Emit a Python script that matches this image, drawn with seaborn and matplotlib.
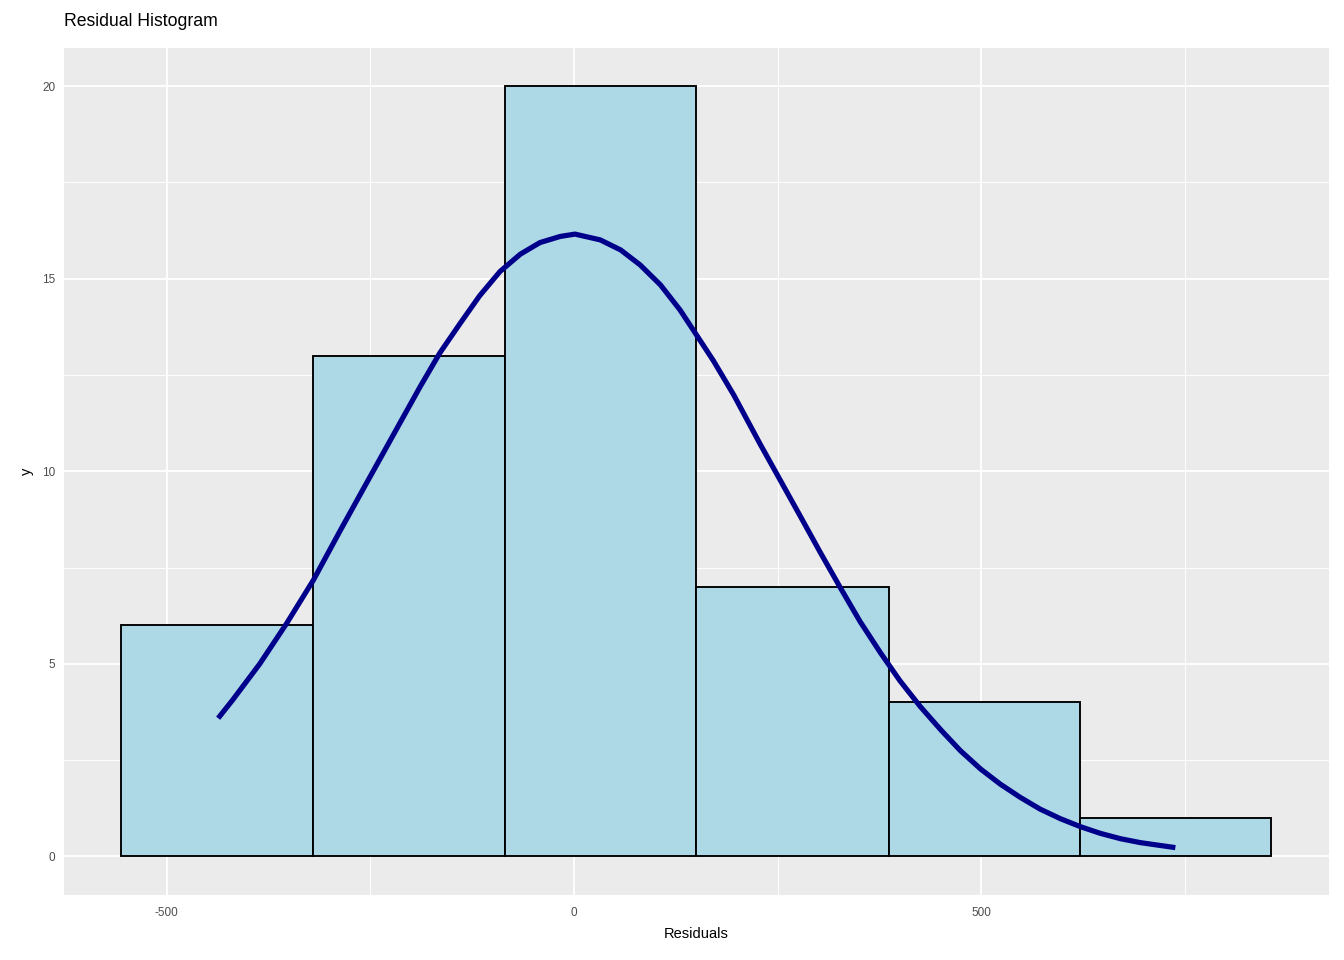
import matplotlib.pyplot as plt
import seaborn as sns

# histogram bins
bin_edges = [-556, -321, -85, 150, 386, 621, 856]
counts = [6, 13, 20, 7, 4, 1]

# fitted curve, points
curve_x = [-437, -419, -386, -353, -320, -288, -255, -214, -189, -165, -140, -116,
           -91, -66, -42, -17, 1, 32, 57, 81, 106, 130, 149, 171, 196, 228, 253,
           278, 302, 327, 351, 376, 400, 425, 450, 474, 499, 523, 548, 572, 597,
           622, 646, 671, 695, 738]
curve_y = [3.59, 4.07, 5.00, 6.05, 7.18, 8.43, 9.69, 11.25, 12.20, 13.07, 13.84, 14.56,
           15.19, 15.64, 15.94, 16.10, 16.16, 16.01, 15.75, 15.36, 14.84, 14.19, 13.58,
           12.87, 11.98, 10.72, 9.77, 8.82, 7.90, 6.97, 6.10, 5.29, 4.56, 3.89, 3.29,
           2.75, 2.27, 1.88, 1.53, 1.23, 0.98, 0.77, 0.60, 0.46, 0.36, 0.23]

sns.set_style("darkgrid", {"axes.facecolor": "#EBEBEB", "grid.color": "white"})
plt.rcParams['font.family'] = ['Liberation Sans', 'DejaVu Sans']
plt.rcParams['axes.unicode_minus'] = False

fig, ax = plt.subplots(figsize=(14, 10), dpi=96)
fig.subplots_adjust(left=63.7/1344, right=1329/1344, top=1-47.7/960, bottom=1-895/960)

mids = [(a + b) / 2 for a, b in zip(bin_edges[:-1], bin_edges[1:])]
sns.histplot(x=mids, weights=counts, bins=bin_edges, color="#ADD8E6",
             edgecolor="black", linewidth=1.42, alpha=1, ax=ax, zorder=2)
sns.lineplot(x=curve_x, y=curve_y, sort=False, color="#00008B", linewidth=3.9,
             solid_capstyle="butt", solid_joinstyle="round", ax=ax, zorder=3)

ax.set_xticks([-500, 0, 500])
ax.set_xticks([-750, -250, 250, 750], minor=True)
ax.set_yticks([0, 5, 10, 15, 20])
ax.set_yticks([2.5, 7.5, 12.5, 17.5], minor=True)

span = bin_edges[-1] - bin_edges[0]
ax.set_xlim(bin_edges[0] - 0.05*span, bin_edges[-1] + 0.05*span)
ax.set_ylim(-0.05*max(counts), 1.05*max(counts))

ax.grid(which="major", color="white", linewidth=1.42)
ax.grid(which="minor", color="white", linewidth=0.71)
ax.set_axisbelow(True)
for s in ax.spines.values():
    s.set_visible(False)

ax.tick_params(which="major", length=2.75, width=1.42, color="#333333",
               labelsize=8.8, labelcolor="#4D4D4D")
ax.tick_params(axis="y", which="major", pad=3.5)
ax.tick_params(axis="x", which="major", pad=6.5)
ax.tick_params(which="minor", length=0)

ax.set_xlabel("Residuals", fontsize=11, labelpad=5.5, color="black")
ax.set_ylabel("y", fontsize=11, labelpad=6, color="black")
ax.set_title("Residual Histogram", loc="left", fontsize=13.2, pad=16, color="black")

fig.savefig("out.png", dpi=96)
